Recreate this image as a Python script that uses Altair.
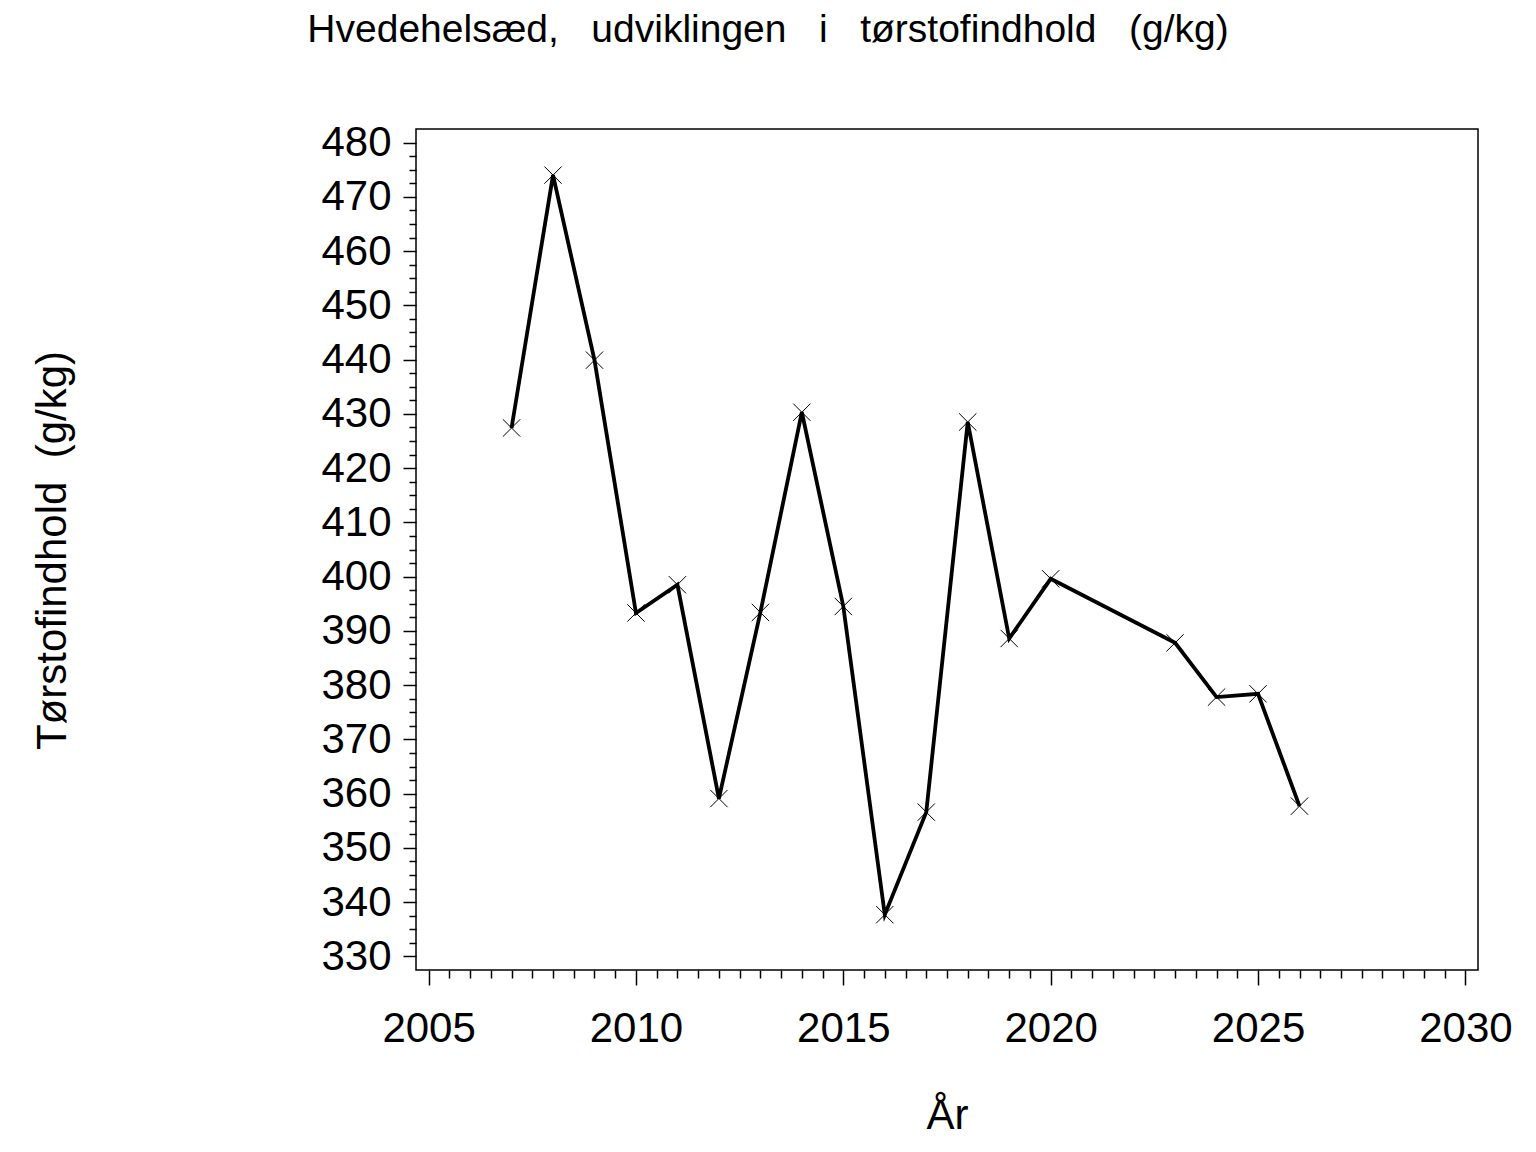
import altair as alt
import pandas as pd

years = [2007, 2008, 2009, 2010, 2011, 2012, 2013, 2014, 2015, 2016, 2017, 2018,
         2019, 2020, 2023, 2024, 2025, 2026]
values = [427.4, 474.0, 439.9, 393.3, 398.5, 359.1, 393.4, 430.3, 394.5, 337.7,
          356.6, 428.5, 388.6, 399.6, 387.8, 377.8, 378.4, 357.7]

x_major = [2005, 2010, 2015, 2020, 2025, 2030]
y_major = [330, 340, 350, 360, 370, 380, 390, 400, 410, 420, 430, 440, 450, 460, 470, 480]
x_ticks = [x_major[0] + 0.5 * i for i in range(51)]
y_ticks = [y_major[0] + 2.5 * i for i in range(61)]

title_text = "Hvedehelsæd,\u00a0\u00a0 udviklingen\u00a0\u00a0 i\u00a0\u00a0 tørstofindhold\u00a0\u00a0 (g/kg)"
x_title = "År"
y_title = "Tørstofindhold\u00a0 (g/kg)"

df = pd.DataFrame({"year": years, "value": values})

FONT = "Liberation Sans"

x_axis = alt.Axis(
    values=x_ticks,
    tickCount=1000,
    labelExpr="datum.value % 5 === 0 ? format(datum.value, 'd') : ''",
    tickSize={"condition": {"test": "datum.value % 5 === 0", "value": 15}, "value": 8},
    tickWidth=1.5,
    tickColor="black",
    domain=False,
    grid=False,
    labelFont=FONT,
    labelFontSize=42,
    labelColor="black",
    labelPadding=23,
    labelOverlap=False,
    labelFlush=False,
    labelBound=False,
    title=x_title,
    titleFont=FONT,
    titleFontSize=42,
    titleFontWeight="normal",
    titleColor="black",
    titleX=531,
    titleY=158,
    titleAlign="center",
    titleBaseline="alphabetic",
)

y_axis = alt.Axis(
    values=y_ticks,
    tickCount=1000,
    labelExpr="datum.value % 10 === 0 ? format(datum.value, 'd') : ''",
    tickSize={"condition": {"test": "datum.value % 10 === 0", "value": 13}, "value": 7},
    tickWidth=1.5,
    tickColor="black",
    domain=False,
    grid=False,
    labelFont=FONT,
    labelFontSize=42,
    labelColor="black",
    labelPadding=12,
    labelOverlap=False,
    labelFlush=False,
    labelBound=False,
    title=y_title,
    titleFont=FONT,
    titleFontSize=42,
    titleFontWeight="normal",
    titleColor="black",
    titleAngle=270,
    titleX=-351,
    titleY=421,
    titleAlign="center",
    titleBaseline="alphabetic",
)

x_scale = alt.Scale(domain=[2004.696, 2030.304], nice=False, zero=False)
y_scale = alt.Scale(domain=[327.5, 482.5], nice=False, zero=False)

x_enc = alt.X("year:Q", scale=x_scale, axis=x_axis)
y_enc = alt.Y("value:Q", scale=y_scale, axis=y_axis)

line = alt.Chart(df).mark_line(color="black", strokeWidth=3.8).encode(x=x_enc, y=y_enc)
pts = alt.Chart(df).mark_point(
    shape="M-1,-1L1,1M-1,1L1,-1", size=300, filled=False, color="black",
    strokeWidth=1, opacity=1
).encode(x=x_enc, y=y_enc)

chart = (
    alt.layer(line, pts)
    .properties(
        width=1062,
        height=841,
        title=alt.TitleParams(
            text=title_text,
            font=FONT,
            fontSize=39,
            fontWeight="normal",
            color="black",
            anchor="middle",
            dx=-179,
            offset=72,
        ),
        autosize=alt.AutoSizeParams(type="none"),
        padding={"left": 408, "top": 121, "right": 40, "bottom": 180},
    )
    .configure(background="white")
    .configure_view(stroke="black", strokeWidth=1.5)
)

chart.save("out.html", embed_options={"renderer": "svg", "actions": False})
